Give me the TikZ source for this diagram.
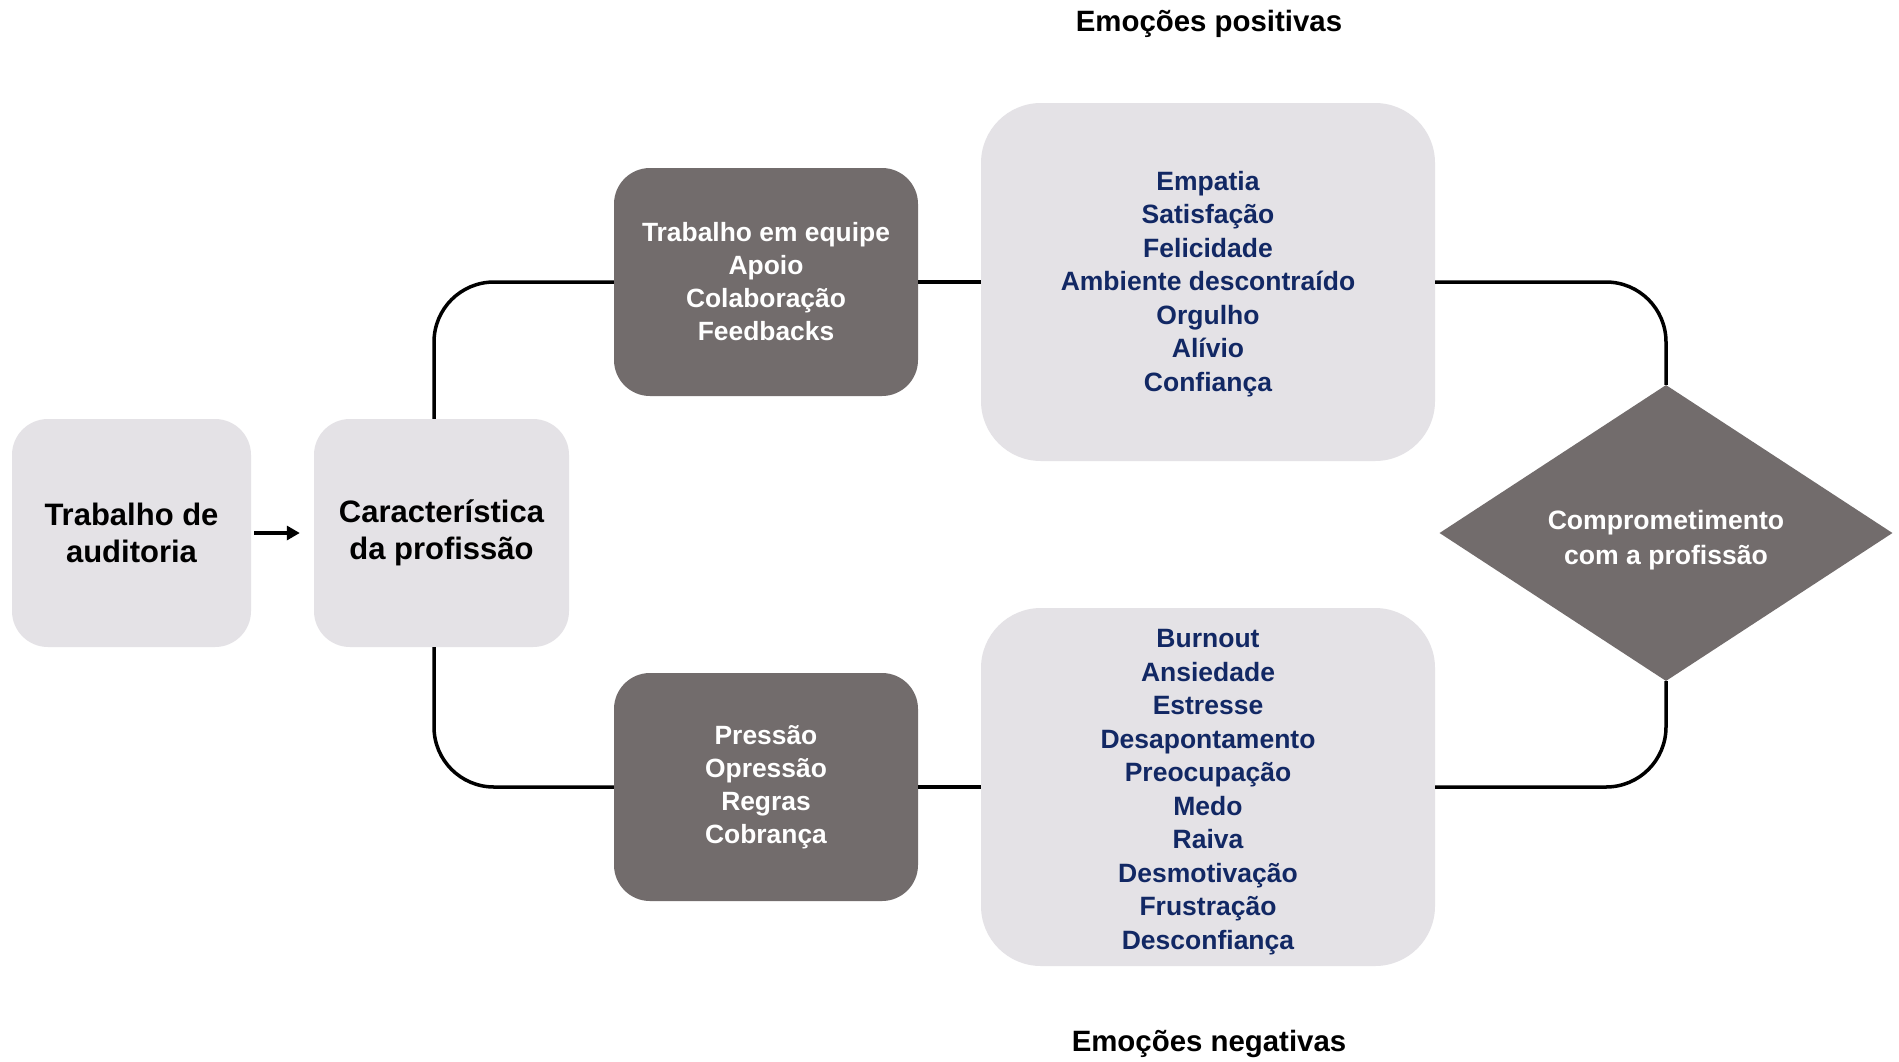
\documentclass[tikz,border=0pt]{standalone}
\usepackage{fontspec}
\setmainfont{Liberation Sans}
\usetikzlibrary{shapes.geometric,arrows.meta}
\definecolor{lightbox}{RGB}{228,226,230}
\definecolor{darkbox}{RGB}{114,108,108}
\definecolor{navytext}{RGB}{18,40,100}
\begin{document}
\begin{tikzpicture}[x=1pt,y=-1pt,
  lightbig/.style={rectangle,rounded corners=60pt,fill=lightbox,minimum width=454pt,minimum height=358pt,inner sep=0pt},
  navylist/.style={inner sep=0pt,align=center,text=navytext,font=\bfseries\fontsize{26.5}{33.5}\selectfont},
  lightsmall/.style={rectangle,rounded corners=36pt,fill=lightbox,minimum height=228pt,inner sep=0pt,align=center,text=black,font=\bfseries\fontsize{31}{37.5}\selectfont},
  darkrect/.style={rectangle,rounded corners=36pt,fill=darkbox,minimum width=304pt,minimum height=228pt,inner sep=0pt,align=center,text=white,font=\bfseries\fontsize{26.4}{33}\selectfont},
  conn/.style={line width=3.5pt,draw=black,rounded corners=60pt},
  titletext/.style={font=\bfseries\fontsize{29.4}{35}\selectfont,text=black}
]
\useasboundingbox (0,0) rectangle (1899,1061);
\fill[white] (0,0) rectangle (1899,1061);

\node[lightsmall,minimum width=239pt] (aud) at (131.5,533) {Trabalho de\\auditoria};
\node[lightsmall,minimum width=255pt] (car) at (441.5,533) {Característica\\da profissão};

\node[darkrect] (tdark) at (766,282) {Trabalho em equipe\\Apoio\\Colaboração\\Feedbacks};
\node[darkrect] (bdark) at (766,787) {Pressão\\Opressão\\Regras\\Cobrança};

\node[lightbig] (tlight) at (1208,282) {};
\node[navylist] (tlist) at ([yshift=-2pt]tlight.center) {Empatia\\Satisfação\\Felicidade\\Ambiente descontraído\\Orgulho\\Alívio\\Confiança};
\node[lightbig] (blight) at (1208,787) {};
\node[navylist] (blist) at ([yshift=-5pt]blight.center) {Burnout\\Ansiedade\\Estresse\\Desapontamento\\Preocupação\\Medo\\Raiva\\Desmotivação\\Frustração\\Desconfiança};

\node[diamond,fill=darkbox,minimum width=453pt,minimum height=296pt,inner sep=0pt] (dia) at (1666,533) {};
\node[align=center,inner sep=0pt,text=white,font=\bfseries\fontsize{26.6}{35}\selectfont] (diatext) at ([yshift=-7pt]dia.center) {Comprometimento\\com a profissão};

\node[titletext] (tpos) at (1209,24) {Emoções positivas};
\node[titletext] (tneg) at (1209,1044) {Emoções negativas};

\draw[line width=3.5pt,-{Triangle[length=13pt,width=14pt]},shorten <=3pt,shorten >=14pt] (aud.east) -- (car.west);

\draw[conn] ([xshift=-7.5pt]car.north) |- (tdark.west);
\draw[conn] ([xshift=-7.5pt]car.south) |- (bdark.west);
\draw[conn] (tdark.east) -- (tlight.west);
\draw[conn] (bdark.east) -- (blight.west);
\draw[conn] (tlight.east) -| (dia.north);
\draw[conn] (blight.east) -| (dia.south);
\end{tikzpicture}
\end{document}
